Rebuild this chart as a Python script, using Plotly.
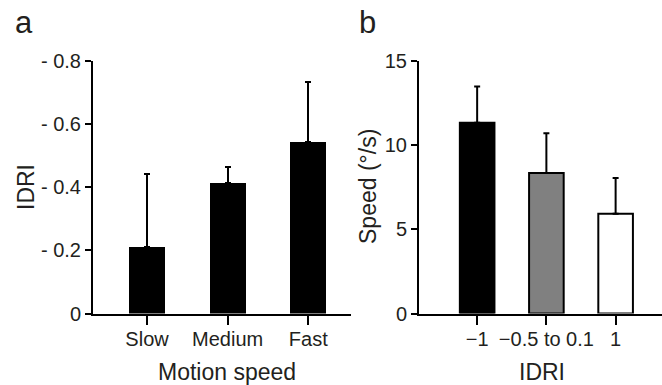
import plotly.graph_objects as go

# Panel a data
speed_cats = ["Slow", "Medium", "Fast"]
idri_mean = [0.21, 0.413, 0.541]
idri_err = [0.23, 0.05, 0.19]
idri_ticks = [0, 0.2, 0.4, 0.6, 0.8]
idri_ticktext = ["0", "- 0.2", "- 0.4", "- 0.6", "- 0.8"]

# Panel b data
idri_cats = ["\u22121", "\u22120.5 to 0.1", "1"]
speed_mean = [11.31, 8.33, 5.92]
speed_err = [2.15, 2.35, 2.11]
speed_colors = ["#000000", "#808080", "#ffffff"]
speed_ticks = [0, 5, 10, 15]

FONT = "Liberation Sans, Arial, Helvetica, sans-serif"
TXT = "#231f20"

W, H = 662, 385
def px_x(p):
    return p / W
def px_y(p):
    return 1 - p / H

fig = go.Figure()

fig.add_trace(go.Bar(
    x=[0, 1, 2], y=idri_mean, width=0.45,
    marker=dict(color="#000000", line=dict(color="#000000", width=0)),
    error_y=dict(type="data", symmetric=False, array=idri_err,
                 arrayminus=[0, 0, 0], color="#000000", thickness=2, width=3),
    xaxis="x", yaxis="y", showlegend=False, hoverinfo="skip",
))

fig.add_trace(go.Bar(
    x=[0, 1, 2], y=speed_mean, width=0.5,
    marker=dict(color=speed_colors, line=dict(color="#000000", width=2)),
    error_y=dict(type="data", symmetric=False, array=speed_err,
                 arrayminus=[0, 0, 0], color="#000000", thickness=2, width=3),
    xaxis="x2", yaxis="y2", showlegend=False, hoverinfo="skip",
))

ydom = [px_y(313.5), px_y(60.5)]
axis_common = dict(showline=True, linecolor="#000000", linewidth=2,
                   showgrid=False, zeroline=False, ticks="outside",
                   tickcolor="#000000", tickwidth=2, automargin=False,
                   tickfont=dict(family=FONT, size=20, color=TXT))

fig.update_layout(
    template="none",
    width=W, height=H,
    margin=dict(l=0, r=0, t=0, b=0, pad=0),
    plot_bgcolor="white", paper_bgcolor="white",
    bargap=0,
    xaxis=dict(domain=[px_x(93), px_x(351)], range=[-0.67, 2.53],
               tickvals=[0, 1, 2], ticktext=speed_cats, ticklen=9,
               ticklabelstandoff=-3, anchor="y", **axis_common),
    yaxis=dict(domain=ydom, range=[0, 0.8], tickvals=idri_ticks,
               ticktext=idri_ticktext, ticklen=6, anchor="x", **axis_common),
    xaxis2=dict(domain=[px_x(419), 1.0], range=[-0.84, 2.67],
                tickvals=[0, 1, 2], ticktext=idri_cats, ticklen=9,
                ticklabelstandoff=-3, anchor="y2", **axis_common),
    yaxis2=dict(domain=ydom, range=[0, 15], tickvals=speed_ticks,
                ticklen=6, anchor="x2", **axis_common),
)

ann_font = dict(family=FONT, size=23, color=TXT)
annotations = [
    dict(text="a", x=px_x(13), y=px_y(22), xanchor="left", yanchor="middle",
         font=dict(family=FONT, size=31, color=TXT)),
    dict(text="b", x=px_x(357), y=px_y(22), xanchor="left", yanchor="middle",
         font=dict(family=FONT, size=31, color=TXT)),
    dict(text="IDRI", x=px_x(26), y=px_y(187), textangle=-90,
         xanchor="center", yanchor="middle", font=ann_font),
    dict(text="Speed (\u00b0/s)", x=px_x(368), y=px_y(187), textangle=-90,
         xanchor="center", yanchor="middle", font=ann_font),
    dict(text="Motion speed", x=px_x(227), y=px_y(372),
         xanchor="center", yanchor="middle", font=ann_font),
    dict(text="IDRI", x=px_x(542), y=px_y(372),
         xanchor="center", yanchor="middle", font=ann_font),
]
for a in annotations:
    a.update(xref="paper", yref="paper", showarrow=False)
fig.update_layout(annotations=annotations)

fig.write_html(
    "out.html",
    config={"displayModeBar": False, "staticPlot": True},
    post_script="document.body.style.margin='0';document.body.style.overflow='hidden';",
)
